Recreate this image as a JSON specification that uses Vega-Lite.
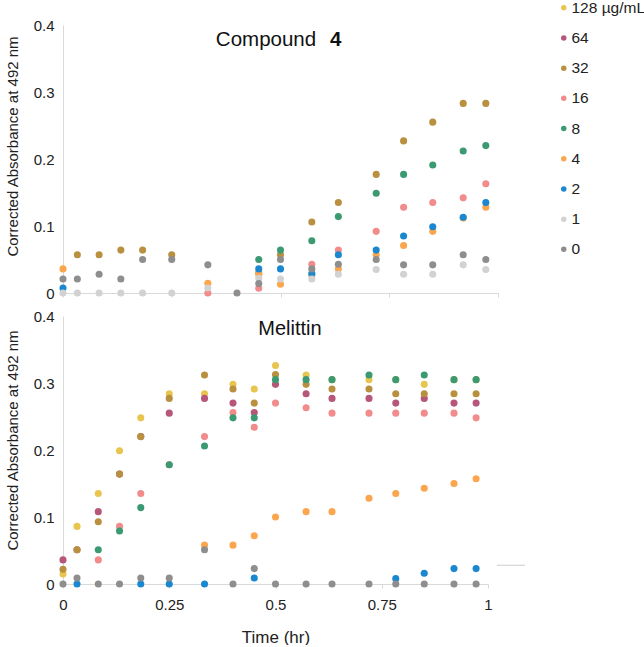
{
  "$schema": "https://vega.github.io/schema/vega-lite/v6.json",
  "padding": {"left": 5, "top": 0, "right": 0, "bottom": 0},
  "config": {
    "font": "Liberation Sans",
    "view": {"stroke": null},
    "axis": {"domainColor": "#d9d9d9", "tickColor": "#d9d9d9", "labelColor": "#222222", "titleColor": "#222222", "labelFontSize": 15, "grid": false, "titleFontWeight": "normal", "labelFont": "Liberation Sans", "titleFont": "Liberation Sans", "labelFlush": false},
    "legend": {"labelFont": "Liberation Sans", "labelColor": "#222222"}
  },
  "datasets": {
    "pts": [
      {"p":"C","c":"32","t":0.033,"v":0.057},{"p":"C","c":"32","t":0.083,"v":0.057},{"p":"C","c":"32","t":0.133,"v":0.064},{"p":"C","c":"32","t":0.183,"v":0.064},{"p":"C","c":"32","t":0.25,"v":0.057},{"p":"C","c":"32","t":0.45,"v":0.030},{"p":"C","c":"32","t":0.5,"v":0.057},{"p":"C","c":"32","t":0.572,"v":0.106},{"p":"C","c":"32","t":0.633,"v":0.135},{"p":"C","c":"32","t":0.72,"v":0.177},{"p":"C","c":"32","t":0.783,"v":0.227},{"p":"C","c":"32","t":0.85,"v":0.255},{"p":"C","c":"32","t":0.92,"v":0.283},{"p":"C","c":"32","t":0.972,"v":0.283},
      {"p":"C","c":"16","t":0.333,"v":0.0},{"p":"C","c":"16","t":0.45,"v":0.007},{"p":"C","c":"16","t":0.572,"v":0.043},{"p":"C","c":"16","t":0.633,"v":0.064},{"p":"C","c":"16","t":0.72,"v":0.092},{"p":"C","c":"16","t":0.783,"v":0.128},{"p":"C","c":"16","t":0.85,"v":0.135},{"p":"C","c":"16","t":0.92,"v":0.142},{"p":"C","c":"16","t":0.972,"v":0.163},
      {"p":"C","c":"8","t":0.45,"v":0.050},{"p":"C","c":"8","t":0.5,"v":0.064},{"p":"C","c":"8","t":0.572,"v":0.078},{"p":"C","c":"8","t":0.633,"v":0.114},{"p":"C","c":"8","t":0.72,"v":0.149},{"p":"C","c":"8","t":0.783,"v":0.177},{"p":"C","c":"8","t":0.85,"v":0.191},{"p":"C","c":"8","t":0.92,"v":0.212},{"p":"C","c":"8","t":0.972,"v":0.220},
      {"p":"C","c":"4","t":0,"v":0.036},{"p":"C","c":"4","t":0.333,"v":0.0145},{"p":"C","c":"4","t":0.45,"v":0.028},{"p":"C","c":"4","t":0.5,"v":0.013},{"p":"C","c":"4","t":0.572,"v":0.027},{"p":"C","c":"4","t":0.633,"v":0.036},{"p":"C","c":"4","t":0.72,"v":0.057},{"p":"C","c":"4","t":0.783,"v":0.071},{"p":"C","c":"4","t":0.85,"v":0.092},{"p":"C","c":"4","t":0.92,"v":0.112},{"p":"C","c":"4","t":0.972,"v":0.128},
      {"p":"C","c":"2","t":0,"v":0.0075},{"p":"C","c":"2","t":0.45,"v":0.036},{"p":"C","c":"2","t":0.5,"v":0.036},{"p":"C","c":"2","t":0.572,"v":0.029},{"p":"C","c":"2","t":0.633,"v":0.057},{"p":"C","c":"2","t":0.72,"v":0.064},{"p":"C","c":"2","t":0.783,"v":0.085},{"p":"C","c":"2","t":0.85,"v":0.099},{"p":"C","c":"2","t":0.92,"v":0.113},{"p":"C","c":"2","t":0.972,"v":0.135},
      {"p":"C","c":"1","t":0,"v":0},{"p":"C","c":"1","t":0.033,"v":0},{"p":"C","c":"1","t":0.083,"v":0},{"p":"C","c":"1","t":0.133,"v":0},{"p":"C","c":"1","t":0.183,"v":0},{"p":"C","c":"1","t":0.25,"v":0},{"p":"C","c":"1","t":0.333,"v":0.0075},{"p":"C","c":"1","t":0.45,"v":0.022},{"p":"C","c":"1","t":0.5,"v":0.021},{"p":"C","c":"1","t":0.572,"v":0.021},{"p":"C","c":"1","t":0.633,"v":0.028},{"p":"C","c":"1","t":0.72,"v":0.035},{"p":"C","c":"1","t":0.783,"v":0.028},{"p":"C","c":"1","t":0.85,"v":0.028},{"p":"C","c":"1","t":0.92,"v":0.042},{"p":"C","c":"1","t":0.972,"v":0.035},
      {"p":"C","c":"0","t":0,"v":0.021},{"p":"C","c":"0","t":0.033,"v":0.021},{"p":"C","c":"0","t":0.083,"v":0.028},{"p":"C","c":"0","t":0.133,"v":0.021},{"p":"C","c":"0","t":0.183,"v":0.050},{"p":"C","c":"0","t":0.25,"v":0.050},{"p":"C","c":"0","t":0.333,"v":0.042},{"p":"C","c":"0","t":0.4,"v":0},{"p":"C","c":"0","t":0.45,"v":0.014},{"p":"C","c":"0","t":0.5,"v":0.050},{"p":"C","c":"0","t":0.572,"v":0.036},{"p":"C","c":"0","t":0.633,"v":0.043},{"p":"C","c":"0","t":0.72,"v":0.050},{"p":"C","c":"0","t":0.783,"v":0.042},{"p":"C","c":"0","t":0.85,"v":0.042},{"p":"C","c":"0","t":0.92,"v":0.057},{"p":"C","c":"0","t":0.972,"v":0.050},

      {"p":"M","c":"128 µg/mL","t":0,"v":0.015},{"p":"M","c":"128 µg/mL","t":0.033,"v":0.086},{"p":"M","c":"128 µg/mL","t":0.083,"v":0.135},{"p":"M","c":"128 µg/mL","t":0.133,"v":0.199},{"p":"M","c":"128 µg/mL","t":0.183,"v":0.248},{"p":"M","c":"128 µg/mL","t":0.25,"v":0.284},{"p":"M","c":"128 µg/mL","t":0.333,"v":0.284},{"p":"M","c":"128 µg/mL","t":0.4,"v":0.298},{"p":"M","c":"128 µg/mL","t":0.45,"v":0.291},{"p":"M","c":"128 µg/mL","t":0.5,"v":0.326},{"p":"M","c":"128 µg/mL","t":0.572,"v":0.312},{"p":"M","c":"128 µg/mL","t":0.633,"v":0.305},{"p":"M","c":"128 µg/mL","t":0.72,"v":0.305},{"p":"M","c":"128 µg/mL","t":0.783,"v":0.305},{"p":"M","c":"128 µg/mL","t":0.85,"v":0.298},{"p":"M","c":"128 µg/mL","t":0.92,"v":0.305},{"p":"M","c":"128 µg/mL","t":0.972,"v":0.305},
      {"p":"M","c":"64","t":0,"v":0.036},{"p":"M","c":"64","t":0.033,"v":0.051},{"p":"M","c":"64","t":0.083,"v":0.108},{"p":"M","c":"64","t":0.133,"v":0.164},{"p":"M","c":"64","t":0.183,"v":0.220},{"p":"M","c":"64","t":0.25,"v":0.255},{"p":"M","c":"64","t":0.333,"v":0.277},{"p":"M","c":"64","t":0.4,"v":0.270},{"p":"M","c":"64","t":0.45,"v":0.256},{"p":"M","c":"64","t":0.5,"v":0.298},{"p":"M","c":"64","t":0.572,"v":0.284},{"p":"M","c":"64","t":0.633,"v":0.277},{"p":"M","c":"64","t":0.72,"v":0.277},{"p":"M","c":"64","t":0.783,"v":0.270},{"p":"M","c":"64","t":0.85,"v":0.277},{"p":"M","c":"64","t":0.92,"v":0.270},{"p":"M","c":"64","t":0.972,"v":0.270},
      {"p":"M","c":"32","t":0,"v":0.022},{"p":"M","c":"32","t":0.033,"v":0.051},{"p":"M","c":"32","t":0.083,"v":0.093},{"p":"M","c":"32","t":0.133,"v":0.164},{"p":"M","c":"32","t":0.183,"v":0.220},{"p":"M","c":"32","t":0.25,"v":0.277},{"p":"M","c":"32","t":0.333,"v":0.312},{"p":"M","c":"32","t":0.4,"v":0.291},{"p":"M","c":"32","t":0.45,"v":0.270},{"p":"M","c":"32","t":0.5,"v":0.3125},{"p":"M","c":"32","t":0.572,"v":0.298},{"p":"M","c":"32","t":0.633,"v":0.291},{"p":"M","c":"32","t":0.72,"v":0.291},{"p":"M","c":"32","t":0.783,"v":0.284},{"p":"M","c":"32","t":0.85,"v":0.284},{"p":"M","c":"32","t":0.92,"v":0.284},{"p":"M","c":"32","t":0.972,"v":0.284},
      {"p":"M","c":"16","t":0.083,"v":0.036},{"p":"M","c":"16","t":0.133,"v":0.086},{"p":"M","c":"16","t":0.183,"v":0.135},{"p":"M","c":"16","t":0.25,"v":0.178},{"p":"M","c":"16","t":0.333,"v":0.220},{"p":"M","c":"16","t":0.4,"v":0.256},{"p":"M","c":"16","t":0.45,"v":0.234},{"p":"M","c":"16","t":0.5,"v":0.270},{"p":"M","c":"16","t":0.572,"v":0.263},{"p":"M","c":"16","t":0.633,"v":0.255},{"p":"M","c":"16","t":0.72,"v":0.255},{"p":"M","c":"16","t":0.783,"v":0.255},{"p":"M","c":"16","t":0.85,"v":0.255},{"p":"M","c":"16","t":0.92,"v":0.255},{"p":"M","c":"16","t":0.972,"v":0.248},
      {"p":"M","c":"8","t":0.083,"v":0.051},{"p":"M","c":"8","t":0.133,"v":0.079},{"p":"M","c":"8","t":0.183,"v":0.114},{"p":"M","c":"8","t":0.25,"v":0.178},{"p":"M","c":"8","t":0.333,"v":0.206},{"p":"M","c":"8","t":0.4,"v":0.248},{"p":"M","c":"8","t":0.45,"v":0.248},{"p":"M","c":"8","t":0.5,"v":0.305},{"p":"M","c":"8","t":0.572,"v":0.305},{"p":"M","c":"8","t":0.633,"v":0.305},{"p":"M","c":"8","t":0.72,"v":0.312},{"p":"M","c":"8","t":0.783,"v":0.305},{"p":"M","c":"8","t":0.85,"v":0.312},{"p":"M","c":"8","t":0.92,"v":0.305},{"p":"M","c":"8","t":0.972,"v":0.305},
      {"p":"M","c":"4","t":0.333,"v":0.058},{"p":"M","c":"4","t":0.4,"v":0.058},{"p":"M","c":"4","t":0.45,"v":0.072},{"p":"M","c":"4","t":0.5,"v":0.100},{"p":"M","c":"4","t":0.572,"v":0.108},{"p":"M","c":"4","t":0.633,"v":0.108},{"p":"M","c":"4","t":0.72,"v":0.128},{"p":"M","c":"4","t":0.783,"v":0.135},{"p":"M","c":"4","t":0.85,"v":0.143},{"p":"M","c":"4","t":0.92,"v":0.150},{"p":"M","c":"4","t":0.972,"v":0.157},
      {"p":"M","c":"2","t":0.033,"v":0},{"p":"M","c":"2","t":0.183,"v":0},{"p":"M","c":"2","t":0.25,"v":0},{"p":"M","c":"2","t":0.333,"v":0},{"p":"M","c":"2","t":0.45,"v":0.009},{"p":"M","c":"2","t":0.783,"v":0.008},{"p":"M","c":"2","t":0.85,"v":0.016},{"p":"M","c":"2","t":0.92,"v":0.023},{"p":"M","c":"2","t":0.972,"v":0.023},
      {"p":"M","c":"0","t":0,"v":0},{"p":"M","c":"0","t":0.033,"v":0.009},{"p":"M","c":"0","t":0.083,"v":0},{"p":"M","c":"0","t":0.133,"v":0},{"p":"M","c":"0","t":0.183,"v":0.009},{"p":"M","c":"0","t":0.25,"v":0.009},{"p":"M","c":"0","t":0.333,"v":0.051},{"p":"M","c":"0","t":0.4,"v":0},{"p":"M","c":"0","t":0.45,"v":0.023},{"p":"M","c":"0","t":0.5,"v":0},{"p":"M","c":"0","t":0.572,"v":0},{"p":"M","c":"0","t":0.633,"v":0},{"p":"M","c":"0","t":0.72,"v":0},{"p":"M","c":"0","t":0.783,"v":0},{"p":"M","c":"0","t":0.85,"v":0},{"p":"M","c":"0","t":0.92,"v":0},{"p":"M","c":"0","t":0.972,"v":0}
    ],
    "stray": [{"t": 1.021, "t2": 1.087, "v": 0.028}]
  },
  "resolve": {"scale": {"color": "shared"}, "legend": {"color": "shared"}},
  "spacing": 8,
  "vconcat": [
    {
      "width": 435,
      "height": 268,
      "layer": [
        {
          "data": {"name": "pts"},
          "transform": [{"filter": "datum.p == 'C'"}],
          "mark": {"type": "circle", "size": 50, "opacity": 1},
          "encoding": {
            "x": {"field": "t", "type": "quantitative", "scale": {"domain": [0, 1], "nice": false}, "axis": {"labels": false, "title": null, "tickSize": 4, "values": [0, 0.25, 0.5, 0.75, 1]}},
            "y": {"field": "v", "type": "quantitative", "scale": {"domain": [0, 0.4], "nice": false}, "axis": {"title": "Corrected Absorbance at 492 nm", "titleFontSize": 15, "ticks": false, "values": [0, 0.1, 0.2, 0.3, 0.4], "format": ".1~f", "labelPadding": 9, "titlePadding": 13, "titleY": 121}},
            "color": {
              "field": "c", "type": "nominal",
              "scale": {"domain": ["128 µg/mL", "64", "32", "16", "8", "4", "2", "1", "0"], "range": ["#E8C54E", "#B5567A", "#B8903F", "#F28B8B", "#3C9A73", "#FBA64E", "#1A87CF", "#D2D2D2", "#8E8E8E"]},
              "legend": {"title": null, "orient": "none", "legendX": 493, "legendY": -25, "symbolType": "circle", "symbolSize": 30, "labelFontSize": 15.5, "rowPadding": 13.2, "padding": 0, "labelOffset": 0, "symbolStrokeWidth": 0}
            }
          }
        },
        {
          "data": {"values": [{}]},
          "mark": {"type": "text", "align": "right", "baseline": "alphabetic", "fontSize": 20.5, "color": "#111111"},
          "encoding": {"x": {"datum": 0.582, "type": "quantitative"}, "y": {"datum": 0.3687, "type": "quantitative"}, "text": {"value": "Compound"}}
        },
        {
          "data": {"values": [{}]},
          "mark": {"type": "text", "align": "left", "baseline": "alphabetic", "fontSize": 20.5, "fontWeight": "bold", "color": "#111111"},
          "encoding": {"x": {"datum": 0.614, "type": "quantitative"}, "y": {"datum": 0.3687, "type": "quantitative"}, "text": {"value": "4"}}
        }
      ]
    },
    {
      "width": 425,
      "height": 268,
      "layer": [
        {
          "data": {"name": "pts"},
          "transform": [{"filter": "datum.p == 'M'"}],
          "mark": {"type": "circle", "size": 50, "opacity": 1},
          "encoding": {
            "x": {"field": "t", "type": "quantitative", "scale": {"domain": [0, 1], "nice": false}, "axis": {"title": "Time (hr)", "titleFontSize": 17, "tickSize": 4, "values": [0, 0.25, 0.5, 0.75, 1], "format": ".2~f", "labelPadding": 9, "titlePadding": 17}},
            "y": {"field": "v", "type": "quantitative", "scale": {"domain": [0, 0.4], "nice": false}, "axis": {"title": "Corrected Absorbance at 492 nm", "titleFontSize": 15, "ticks": false, "values": [0, 0.1, 0.2, 0.3, 0.4], "format": ".1~f", "labelPadding": 9, "titlePadding": 13, "titleY": 124}},
            "color": {"field": "c", "type": "nominal"}
          }
        },
        {
          "data": {"name": "stray"},
          "mark": {"type": "rule", "color": "#cccccc", "strokeWidth": 1},
          "encoding": {"x": {"field": "t", "type": "quantitative"}, "x2": {"field": "t2"}, "y": {"field": "v", "type": "quantitative"}}
        },
        {
          "data": {"values": [{}]},
          "mark": {"type": "text", "align": "center", "baseline": "alphabetic", "fontSize": 20, "color": "#111111"},
          "encoding": {"x": {"datum": 0.534, "type": "quantitative"}, "y": {"datum": 0.372, "type": "quantitative"}, "text": {"value": "Melittin"}}
        }
      ]
    }
  ]
}
